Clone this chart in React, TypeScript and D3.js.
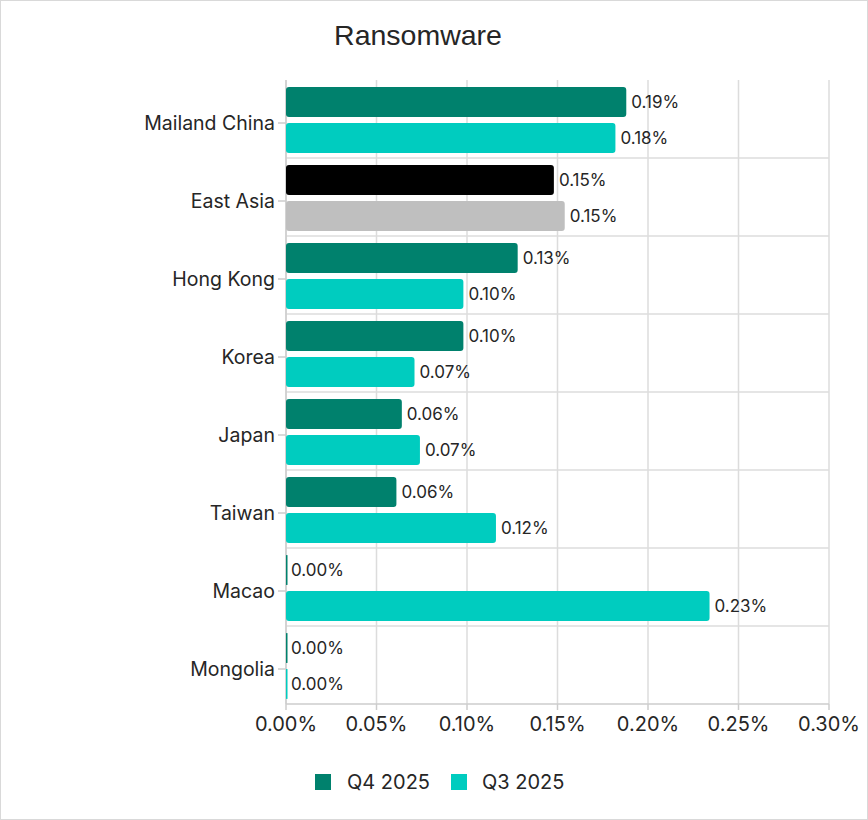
import React from "react";
import * as d3 from "d3";

const categories = ["Mailand China", "East Asia", "Hong Kong", "Korea", "Japan", "Taiwan", "Macao", "Mongolia"];
const q4Values = [0.188, 0.148, 0.128, 0.098, 0.064, 0.061, 0.0, 0.0];
const q3Values = [0.182, 0.154, 0.098, 0.071, 0.074, 0.116, 0.234, 0.0];
const q4Labels = ["0.19%", "0.15%", "0.13%", "0.10%", "0.06%", "0.06%", "0.00%", "0.00%"];
const q3Labels = ["0.18%", "0.15%", "0.10%", "0.07%", "0.07%", "0.12%", "0.23%", "0.00%"];
const xTicks = [0, 0.05, 0.1, 0.15, 0.2, 0.25, 0.3];
const seriesNames = ["Q4 2025", "Q3 2025"];

const W = 868;
const H = 820;
const FONT = "Inter, 'Noto Sans', sans-serif";
const C_Q4 = "#00816d";
const C_Q3 = "#00ccbf";
const C_HL4 = "#000000";
const C_HL3 = "#bfbfbf";
const TEXT = "#262626";

export default function App() {
  const x = d3.scaleLinear().domain([0, 0.3]).range([286, 829]);
  const y = d3.scaleBand().domain(categories).range([81, 705]).paddingInner(0).paddingOuter(0);
  const sub = d3.scaleBand().domain(["q4", "q3"]).range([0, y.bandwidth()]).paddingInner(0.17).paddingOuter(0.17);
  const bh = sub.bandwidth();

  return (
    <div>
      <style>{`body{margin:0}`}</style>
      <svg width={W} height={H} style={{ display: "block" }}>
        <rect x={0.5} y={0.5} width={W - 1} height={H - 1} fill="#fff" stroke="#d9d9d9" />
        <text x={418} y={45} textAnchor="middle" fontFamily="'Liberation Sans', Arial, sans-serif" fontSize={28.5} fill={TEXT}>
          Ransomware
        </text>
        {xTicks.map((t) => (
          <line key={"g" + t} x1={x(t)} x2={x(t)} y1={80} y2={704} stroke="#dcdcdc" strokeWidth={1.5} />
        ))}
        {categories.slice(1).map((c) => (
          <line key={"h" + c} x1={286} x2={829} y1={(y(c) as number) - 1} y2={(y(c) as number) - 1} stroke="#dcdcdc" strokeWidth={1.5} />
        ))}
        <line x1={286} x2={286} y1={80} y2={704} stroke="#cccccc" strokeWidth={1.5} />
        <line x1={286} x2={829} y1={704} y2={704} stroke="#cccccc" strokeWidth={1.5} />
        {xTicks.map((t) => (
          <g key={"t" + t}>
            <line x1={x(t)} x2={x(t)} y1={704} y2={710} stroke="#cccccc" strokeWidth={1.5} />
            <text x={x(t)} y={731} textAnchor="middle" fontFamily={FONT} fontSize={20} fill={TEXT}>
              {d3.format(".2f")(t) + "%"}
            </text>
          </g>
        ))}
        {categories.map((c, i) => {
          const cy = (y(c) as number) + y.bandwidth() / 2 + 3;
          const y4 = (y(c) as number) + (sub("q4") as number);
          const y3 = (y(c) as number) + (sub("q3") as number);
          const hl = c === "East Asia";
          const w4 = x(q4Values[i]) - x(0);
          const w3 = x(q3Values[i]) - x(0);
          return (
            <g key={c}>
              <line x1={278} x2={286} y1={cy} y2={cy} stroke="#cccccc" strokeWidth={1.5} />
              <text x={275} y={cy} dy="0.35em" textAnchor="end" fontFamily={FONT} fontSize={19.5} fill={TEXT}>
                {c}
              </text>
              <rect x={x(0)} y={y4} width={Math.max(w4, 1.5)} height={bh} rx={w4 > 6 ? 3 : 0} fill={hl ? C_HL4 : C_Q4} />
              <rect x={x(0)} y={y3} width={Math.max(w3, 1.5)} height={bh} rx={w3 > 6 ? 3 : 0} fill={hl ? C_HL3 : C_Q3} />
              <text x={x(q4Values[i]) + 5} y={y4 + bh / 2} dy="0.33em" fontFamily={FONT} fontSize={17} fill={TEXT}>
                {q4Labels[i]}
              </text>
              <text x={x(q3Values[i]) + 5} y={y3 + bh / 2} dy="0.33em" fontFamily={FONT} fontSize={17} fill={TEXT}>
                {q3Labels[i]}
              </text>
            </g>
          );
        })}
        <rect x={315} y={774} width={16} height={16} fill={C_Q4} />
        <text x={347} y={782} dy="0.35em" fontFamily={FONT} fontSize={20} fill={TEXT}>{seriesNames[0]}</text>
        <rect x={451} y={774} width={16} height={16} fill={C_Q3} />
        <text x={482} y={782} dy="0.35em" fontFamily={FONT} fontSize={20} fill={TEXT}>{seriesNames[1]}</text>
      </svg>
    </div>
  );
}
